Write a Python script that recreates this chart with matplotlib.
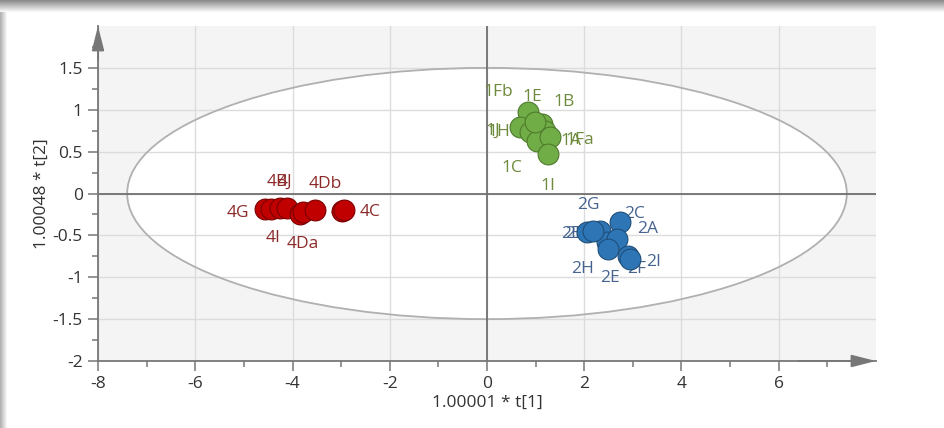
import numpy as np
import matplotlib
matplotlib.use("Agg")
import matplotlib.pyplot as plt
from matplotlib.patches import Ellipse

plt.rcParams['font.family'] = ['Open Sans', 'DejaVu Sans']

# Group 1 (green)
g1_labels = ["1Fb", "1H", "1J", "1B", "1A", "1C", "1Fa", "1I", "1E"]
g1_x = [0.85, 0.68, 0.885, 1.126, 1.193, 1.022, 1.296, 1.251, 0.987]
g1_y = [0.97, 0.791, 0.731, 0.832, 0.752, 0.632, 0.672, 0.473, 0.851]

# Group 2 (blue)
g2_labels = ["2B", "2G", "2C", "2H", "2A", "2E", "2F", "2D", "2I"]
g2_x = [2.051, 2.325, 2.737, 2.463, 2.669, 2.496, 2.907, 2.181, 2.95]
g2_y = [-0.462, -0.442, -0.343, -0.581, -0.541, -0.661, -0.752, -0.442, -0.78]

# Group 4 (red)
g4_labels = ["4G", "4I", "4B", "4J", "4A", "4Da", "4Db", "4F", "4C"]
g4_x = [-4.57, -4.45, -4.25, -4.12, -3.85, -3.78, -3.54, -2.98, -2.94]
g4_y = [-0.18, -0.19, -0.17, -0.17, -0.25, -0.22, -0.20, -0.21, -0.20]

# label offsets in pixels (placement only)
g1_off = {"1Fb": (-30, 20), "1H": (-21, -5), "1J": (-37, 1), "1B": (22, 22), "1A": (26, -10),
          "1C": (-25, -27), "1Fa": (30, -3), "1I": (0, -32), "1E": (-3, 25)}
g2_off = {"2B": (-15, -2), "2G": (-12, 26), "2C": (14, 8), "2H": (-24, -27), "2A": (31, 10),
          "2E": (2, -29), "2F": (8, -13), "2D": (-17, -3), "2I": (23, -3)}
g4_off = {"4G": (-27, -4), "4I": (2, -29), "4B": (-3, 26), "4J": (-2, 26), "4A": (5, -1),
          "4Da": (0, -32), "4Db": (10, 26), "4F": (-2, -1), "4C": (26, -2)}

groups = [
    (g1_x, g1_y, g1_labels, g1_off, "#70ad47", "#4f7a2c", "#6e8a3c"),
    (g2_x, g2_y, g2_labels, g2_off, "#2e75b6", "#1f4e79", "#46648f"),
    (g4_x, g4_y, g4_labels, g4_off, "#c00000", "#7a0000", "#8c2a2a"),
]

fig = plt.figure(figsize=(9.45, 4.28), dpi=100)

# frame shadow
bg = fig.add_axes([0, 0, 1, 1])
img = np.ones((428, 945, 3))
top = np.linspace(0.55, 0.97, 12)
for i, v in enumerate(top):
    img[i, :, :] = v
left = np.linspace(0.7, 0.97, 7)
for j, v in enumerate(left):
    img[12:, j, :] = np.minimum(img[12:, j, :], v)
bg.imshow(img, aspect='auto', extent=[0, 1, 0, 1])
bg.axis('off')

ax = fig.add_axes([98 / 945, 1 - 361 / 428, 778 / 945, 335 / 428])
ax.set_xlim(-8, 8)
ax.set_ylim(-2, 2)
ax.set_facecolor("#f4f4f4")

# Hotelling ellipse
ax.add_patch(Ellipse((0, 0), 14.8, 3.0, facecolor="white", edgecolor="none", zorder=0.2))
ax.add_patch(Ellipse((0, 0), 14.8, 3.0, facecolor="none", edgecolor="#b0b0b0", lw=1.3, zorder=1.5))

ax.set_xticks(np.arange(-8, 7, 2))
ax.set_xticks(np.arange(-8, 8, 1), minor=True)
ax.set_yticks(np.arange(-2, 1.6, 0.5))
ax.set_yticks(np.arange(-2, 1.8, 0.25), minor=True)
ax.set_xticklabels([str(v) for v in range(-8, 7, 2)])
ax.set_yticklabels(["-2", "-1.5", "-1", "-0.5", "0", "0.5", "1", "1.5"])

ax.set_axisbelow(True)
ax.grid(True, which='major', color="#dcdcdc", lw=1)
ax.axhline(0, color="#707070", lw=1.3, zorder=1.6)
ax.axvline(0, color="#707070", lw=1.3, zorder=1.6)

for s in ["top", "right"]:
    ax.spines[s].set_visible(False)
for s in ["left", "bottom"]:
    ax.spines[s].set_color("#777777")
    ax.spines[s].set_linewidth(1.3)
ax.tick_params(which='major', length=7, width=1.1, color="#777777", labelsize=12.5,
               labelcolor="#333333", pad=4)
ax.tick_params(which='minor', length=4, width=1.1, color="#777777")

ap = dict(arrowstyle='-|>,head_length=1.5,head_width=0.38', color="#777777", lw=1.3,
          mutation_scale=10, shrinkA=0, shrinkB=0)
ax.annotate('', xy=(0, 1.0), xytext=(0, 0.9), xycoords='axes fraction', arrowprops=ap,
            annotation_clip=False)
ax.annotate('', xy=(1.0, 0), xytext=(0.9, 0), xycoords='axes fraction', arrowprops=ap,
            annotation_clip=False)

for xs, ys, labs, off, fc, ec, tc in groups:
    ax.scatter(xs, ys, s=225, color=fc, edgecolors=ec, linewidths=0.8, zorder=3)
    for x, y, lab in zip(xs, ys, labs):
        ax.annotate(lab, (x, y), xytext=off[lab], textcoords='offset pixels',
                    ha='center', va='center', fontsize=12.5, color=tc, zorder=2)

ax.set_xlabel("1.00001 * t[1]", fontsize=12.5, color="#333333", labelpad=2)
ax.set_ylabel("1.00048 * t[2]", fontsize=12.5, color="#333333", labelpad=2)

fig.savefig("out.png", dpi=100)
